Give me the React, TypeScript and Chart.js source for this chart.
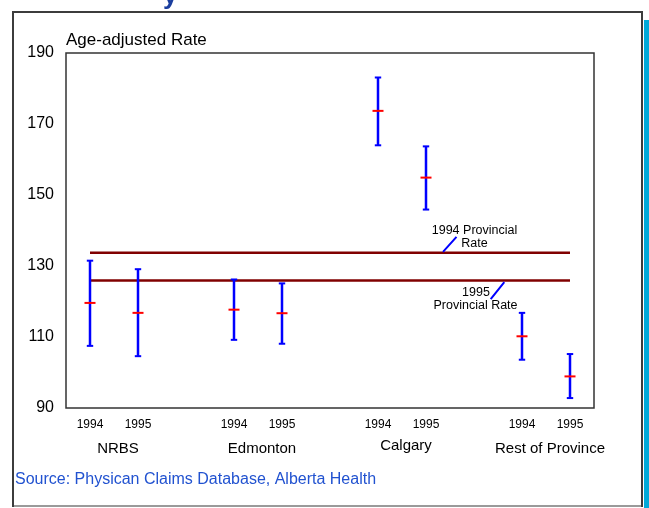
import React, { useEffect, useRef } from "react";
import { Chart, registerables } from "chart.js";

Chart.register(...registerables);

const groups = ["NRBS", "Edmonton", "Calgary", "Rest of Province"];
const yearLabels = ["1994", "1995", "1994", "1995", "1994", "1995", "1994", "1995"];
const positions = [0, 1, 3, 4, 6, 7, 9, 10];
const means = [119.6, 116.8, 117.7, 116.7, 173.7, 154.9, 110.2, 98.9];
const lows = [107.5, 104.6, 109.2, 108.1, 164.0, 145.9, 103.6, 92.8];
const highs = [131.5, 129.1, 126.2, 125.1, 183.1, 163.7, 116.8, 105.2];
const prov1994 = 133.7;
const prov1995 = 125.9;
const yMin = 90;
const yMax = 190;
const yStep = 20;

const FONT = "'Liberation Sans', Arial, Helvetica, sans-serif";

const decorPlugin = {
  id: "decor",
  beforeDraw(chart: any) {
    const ctx = chart.ctx;
    const W = chart.width;
    const H = chart.height;
    ctx.save();
    ctx.fillStyle = "#ffffff";
    ctx.fillRect(0, 0, W, H);
    // teal side bar
    ctx.fillStyle = "#00a9d9";
    ctx.fillRect(644, 20, W - 644, H - 20);
    // cut-off title fragment
    ctx.fillStyle = "#1b3e9e";
    ctx.font = `bold 26px ${FONT}`;
    ctx.textAlign = "left";
    ctx.textBaseline = "alphabetic";
    ctx.fillText("y", 163, 4);
    // outer frame
    ctx.lineWidth = 2;
    ctx.strokeStyle = "#9a9a9a";
    ctx.beginPath();
    ctx.moveTo(13, 506);
    ctx.lineTo(642, 506);
    ctx.stroke();
    ctx.strokeStyle = "#3c3c3c";
    ctx.beginPath();
    ctx.moveTo(13, 507);
    ctx.lineTo(13, 12);
    ctx.lineTo(642, 12);
    ctx.lineTo(642, 507);
    ctx.stroke();
    // axis title
    ctx.fillStyle = "#000000";
    ctx.font = `17px ${FONT}`;
    ctx.textBaseline = "alphabetic";
    ctx.fillText("Age-adjusted Rate", chart.chartArea.left, 45);
    // source
    ctx.fillStyle = "#2152d0";
    ctx.font = `16px ${FONT}`;
    ctx.textBaseline = "middle";
    ctx.fillText("Source: Physican Claims Database, Alberta Health", 15, 480);
    ctx.restore();
  },
  afterDatasetsDraw(chart: any) {
    const ctx = chart.ctx;
    const { left, top, right, bottom } = chart.chartArea;
    const xs = chart.scales.x;
    const ys = chart.scales.y;
    ctx.save();
    // plot border
    ctx.strokeStyle = "#333333";
    ctx.lineWidth = 1.5;
    ctx.strokeRect(left, top, right - left, bottom - top);
    // group labels
    ctx.fillStyle = "#000000";
    ctx.font = `15px ${FONT}`;
    ctx.textAlign = "center";
    ctx.textBaseline = "middle";
    groups.forEach((g, i) => {
      const xc = (xs.getPixelForValue(positions[2 * i]) + xs.getPixelForValue(positions[2 * i + 1])) / 2;
      const yOff = g === "Calgary" ? 446 : 449;
      ctx.fillText(g, xc + 4, yOff);
    });
    // annotations
    const ax = xs.getPixelForValue(8);
    const y94 = ys.getPixelForValue(prov1994);
    const y95 = ys.getPixelForValue(prov1995);
    ctx.font = `12.5px ${FONT}`;
    ctx.fillText("1994 Provincial", ax + 0.5, y94 - 22.5);
    ctx.fillText("Rate", ax + 0.5, y94 - 9);
    ctx.fillText("1995", ax + 2, y95 + 11.5);
    ctx.fillText("Provincial Rate", ax + 1.5, y95 + 25);
    ctx.strokeStyle = "#0000ff";
    ctx.lineWidth = 2;
    ctx.beginPath();
    ctx.moveTo(ax - 31, y94 - 1);
    ctx.lineTo(ax - 17.5, y94 - 16);
    ctx.moveTo(ax + 16.7, y95 + 18.6);
    ctx.lineTo(ax + 30.3, y95 + 1.6);
    ctx.stroke();
    ctx.restore();
  },
};

export default function App() {
  const canvasRef = useRef<HTMLCanvasElement | null>(null);

  useEffect(() => {
    const canvas = canvasRef.current;
    if (!canvas) return;
    const stems: any[] = [];
    positions.forEach((p, i) => {
      stems.push({ x: p, y: lows[i] });
      stems.push({ x: p, y: highs[i] });
      stems.push({ x: p, y: null });
    });
    const caps = [
      ...positions.map((p, i) => ({ x: p, y: lows[i] })),
      ...positions.map((p, i) => ({ x: p, y: highs[i] })),
    ];
    const meanPts = positions.map((p, i) => ({ x: p, y: means[i] }));
    const first = positions[0];
    const last = positions[positions.length - 1];

    const chart = new Chart(canvas, {
      type: "line",
      data: {
        datasets: [
          {
            label: "1994 Provincial Rate",
            data: [{ x: first, y: prov1994 }, { x: last, y: prov1994 }],
            borderColor: "#800000",
            borderWidth: 2.5,
            pointRadius: 0,
            order: 4,
          },
          {
            label: "1995 Provincial Rate",
            data: [{ x: first, y: prov1995 }, { x: last, y: prov1995 }],
            borderColor: "#800000",
            borderWidth: 2.5,
            pointRadius: 0,
            order: 3,
          },
          {
            label: "range",
            data: stems,
            borderColor: "#0000ff",
            borderWidth: 2.5,
            pointRadius: 0,
            spanGaps: false,
            order: 2,
          },
          {
            label: "caps",
            data: caps,
            showLine: false,
            pointStyle: "line",
            pointRadius: 3.2,
            pointBorderColor: "#0000ff",
            pointBorderWidth: 2,
            order: 1,
          },
          {
            label: "rate",
            data: meanPts,
            showLine: false,
            pointStyle: "line",
            pointRadius: 5.5,
            pointBorderColor: "#ff0000",
            pointBorderWidth: 2,
            order: 0,
          },
        ] as any,
      },
      options: {
        responsive: false,
        animation: false,
        events: [],
        layout: { padding: { left: 0, top: 53, right: 55, bottom: 0 } },
        plugins: {
          legend: { display: false },
          tooltip: { enabled: false },
          title: { display: false },
        },
        scales: {
          x: {
            type: "linear",
            min: -0.5,
            max: 10.5,
            grid: { display: false, drawTicks: false },
            border: { display: false },
            afterBuildTicks: (s: any) => {
              s.ticks = positions.map((v) => ({ value: v }));
            },
            afterFit: (s: any) => {
              s.height = 100;
            },
            ticks: {
              autoSkip: false,
              maxRotation: 0,
              padding: 9,
              color: "#000000",
              font: { family: FONT, size: 12 },
              callback: (_v: any, i: number) => yearLabels[i],
            },
          },
          y: {
            type: "linear",
            min: yMin,
            max: yMax,
            grid: { display: false, drawTicks: false },
            border: { display: false },
            afterFit: (s: any) => {
              s.width = 66;
            },
            ticks: {
              stepSize: yStep,
              padding: 12,
              color: "#000000",
              font: { family: FONT, size: 16 },
            },
          },
        },
      } as any,
      plugins: [decorPlugin],
    });
    return () => chart.destroy();
  }, []);

  return (
    <div style={{ position: "absolute", left: 0, top: 0, width: 649, height: 508 }}>
      <canvas ref={canvasRef} width={649} height={508} style={{ display: "block" }} />
    </div>
  );
}
